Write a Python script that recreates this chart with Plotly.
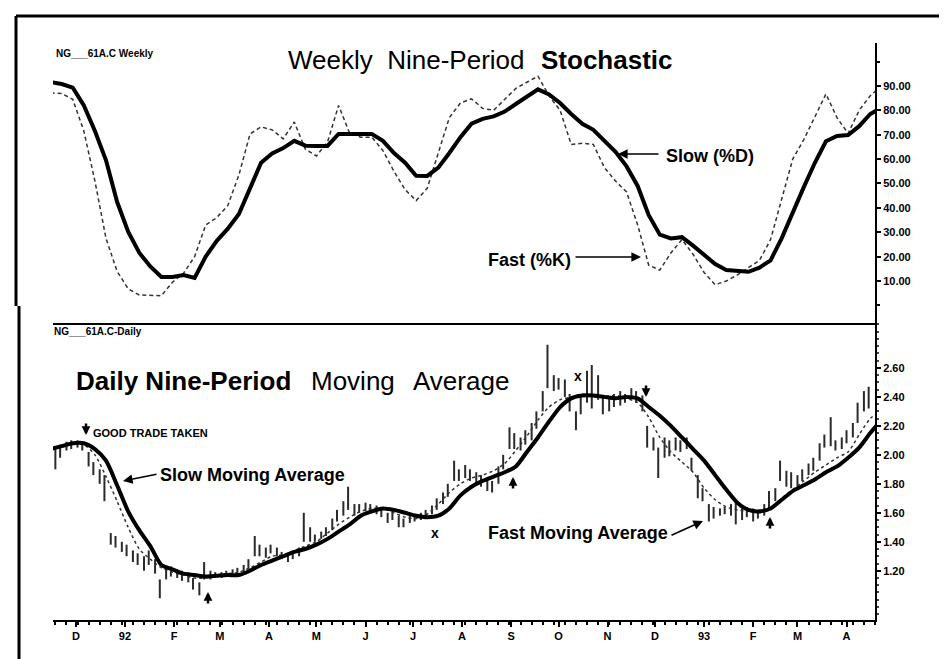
import pandas as pd
import plotly.graph_objects as go

W, H = 947, 659

# weekly stochastic (top panel), one value per Friday
week_dates = pd.date_range('1991-11-15', periods=76, freq='7D')
fast_k = [87.1, 86.9, 84.5, 71.5, 51.0, 27.5, 14.0, 6.8, 4.3, 4.0,
          4.0, 9.5, 13.2, 20.0, 33.0, 36.0, 41.0, 53.5, 70.3, 73.2,
          72.0, 68.3, 75.2, 64.0, 61.3, 67.0, 82.0, 70.5, 69.0, 69.0,
          63.5, 55.0, 47.5, 43.0, 48.0, 62.5, 77.0, 83.0, 84.7, 80.8,
          80.0, 84.5, 89.0, 91.5, 94.0, 85.9, 80.0, 66.0, 66.5, 66.0,
          56.5, 51.0, 46.5, 33.0, 16.5, 14.5, 21.5, 27.0, 21.0, 13.5,
          8.5, 10.0, 12.5, 15.5, 18.5, 27.0, 44.0, 60.0, 68.0, 77.5,
          86.7, 77.0, 70.5, 80.0, 86.0, 90.0]
slow_d = [91.6, 90.8, 89.3, 82.0, 71.5, 59.5, 42.5, 30.2, 21.6, 16.0,
          11.7, 11.7, 12.5, 11.3, 20.0, 26.5, 31.5, 37.5, 48.0, 58.5,
          62.3, 64.5, 67.5, 65.5, 65.4, 65.4, 70.3, 70.3, 70.3, 70.3,
          67.5, 62.5, 58.5, 53.2, 53.1, 56.5, 62.5, 69.0, 74.5, 76.5,
          77.5, 79.5, 82.6, 85.7, 88.6, 86.5, 83.0, 78.5, 74.5, 72.0,
          67.5, 63.0, 57.0, 49.0, 37.0, 29.0, 27.5, 28.0, 24.5, 21.0,
          17.0, 14.5, 14.0, 13.8, 15.5, 18.5, 27.5, 38.5, 48.5, 58.5,
          67.3, 69.5, 69.9, 73.5, 78.5, 81.0]

# daily nine-period moving averages (bottom panel), read weekly
slow_ma = [2.04, 2.06, 2.08, 2.08, 2.04, 1.96, 1.79, 1.61, 1.48, 1.37,
           1.24, 1.21, 1.18, 1.17, 1.16, 1.165, 1.17, 1.17, 1.20, 1.24,
           1.27, 1.30, 1.33, 1.35, 1.38, 1.42, 1.47, 1.52, 1.58, 1.61,
           1.63, 1.62, 1.60, 1.58, 1.57, 1.58, 1.63, 1.72, 1.78, 1.82,
           1.85, 1.88, 1.92, 2.02, 2.12, 2.23, 2.33, 2.39, 2.41, 2.41,
           2.40, 2.39, 2.40, 2.39, 2.33, 2.27, 2.20, 2.12, 2.04, 1.96,
           1.86, 1.76, 1.67, 1.62, 1.61, 1.63, 1.69, 1.75, 1.79, 1.83,
           1.88, 1.92, 1.98, 2.05, 2.15, 2.24]
fast_ma = [2.04, 2.06, 2.08, 2.07, 2.00, 1.85, 1.68, 1.50, 1.35, 1.28,
           1.22, 1.19, 1.17, 1.15, 1.15, 1.17, 1.18, 1.19, 1.22, 1.26,
           1.30, 1.31, 1.34, 1.37, 1.40, 1.46, 1.52, 1.57, 1.61, 1.63,
           1.63, 1.60, 1.57, 1.56, 1.59, 1.66, 1.74, 1.80, 1.84, 1.86,
           1.89, 1.94, 2.03, 2.13, 2.24, 2.33, 2.38, 2.40, 2.42, 2.40,
           2.40, 2.41, 2.39, 2.36, 2.26, 2.12, 2.02, 1.95, 1.88, 1.77,
           1.69, 1.64, 1.62, 1.61, 1.60, 1.63, 1.70, 1.76, 1.82, 1.88,
           1.93, 1.98, 2.02, 2.14, 2.25, 2.31]

# price bars, two per week (Mon / Thu)
mondays = pd.date_range('1991-11-18', periods=74, freq='7D')
bar_dates = []
for d in mondays:
    bar_dates += [d, d + pd.Timedelta(days=3)]
bar_high = [2.06, 2.07, 2.09, 2.10, 2.10, 2.09, 2.02, 1.95, 1.90, 1.86,
            1.46, 1.44, 1.40, 1.38, 1.34, 1.32, 1.30, 1.34, 1.28, 1.14,
            1.22, 1.23, 1.21, 1.20, 1.19, 1.15, 1.12, 1.26, 1.20, 1.19,
            1.19, 1.20, 1.21, 1.22, 1.24, 1.28, 1.44, 1.38, 1.36, 1.38,
            1.36, 1.33, 1.31, 1.33, 1.36, 1.60, 1.50, 1.45, 1.47, 1.50,
            1.56, 1.62, 1.68, 1.78, 1.66, 1.66, 1.67, 1.66, 1.65, 1.64,
            1.60, 1.62, 1.58, 1.56, 1.60, 1.59, 1.60, 1.62, 1.65, 1.70,
            1.74, 1.80, 1.96, 1.90, 1.93, 1.90, 1.88, 1.86, 1.84, 1.82,
            1.92, 2.00, 2.19, 2.15, 2.12, 2.17, 2.22, 2.30, 2.44, 2.76,
            2.55, 2.53, 2.52, 2.42, 2.30, 2.40, 2.58, 2.62, 2.55, 2.40,
            2.39, 2.42, 2.44, 2.42, 2.46, 2.44, 2.41, 2.20, 2.12, 2.05,
            2.12, 2.10, 2.12, 2.10, 2.12, 1.98, 1.86, 1.77, 1.66, 1.64,
            1.63, 1.64, 1.66, 1.68, 1.63, 1.64, 1.63, 1.61, 1.66, 1.75,
            1.77, 1.96, 1.89, 1.88, 1.86, 1.90, 1.94, 1.98, 2.08, 2.14,
            2.26, 2.10, 2.12, 2.17, 2.22, 2.36, 2.44, 2.47]
bar_low = [1.90, 1.98, 2.03, 2.04, 2.05, 2.03, 1.92, 1.86, 1.80, 1.68,
           1.38, 1.36, 1.33, 1.30, 1.26, 1.24, 1.20, 1.24, 1.18, 1.01,
           1.14, 1.16, 1.15, 1.13, 1.12, 1.07, 1.03, 1.14, 1.14, 1.15,
           1.15, 1.16, 1.16, 1.17, 1.19, 1.21, 1.30, 1.30, 1.29, 1.32,
           1.30, 1.28, 1.26, 1.28, 1.30, 1.40, 1.40, 1.40, 1.42, 1.44,
           1.48, 1.54, 1.58, 1.62, 1.58, 1.60, 1.61, 1.60, 1.59, 1.57,
           1.53, 1.55, 1.50, 1.50, 1.53, 1.54, 1.55, 1.57, 1.59, 1.62,
           1.66, 1.71, 1.82, 1.82, 1.84, 1.82, 1.80, 1.78, 1.75, 1.74,
           1.80, 1.90, 2.04, 2.04, 2.03, 2.07, 2.10, 2.18, 2.30, 2.46,
           2.44, 2.45, 2.40, 2.30, 2.17, 2.28, 2.36, 2.32, 2.38, 2.28,
           2.30, 2.33, 2.34, 2.36, 2.39, 2.36, 2.30, 2.05, 2.03, 1.84,
           1.98, 1.99, 2.03, 2.02, 2.04, 1.89, 1.70, 1.68, 1.54, 1.56,
           1.58, 1.59, 1.58, 1.52, 1.55, 1.57, 1.54, 1.56, 1.58, 1.63,
           1.68, 1.82, 1.78, 1.77, 1.78, 1.82, 1.86, 1.89, 1.96, 2.05,
           2.06, 2.03, 2.04, 2.08, 2.12, 2.22, 2.30, 2.32]

month_ticks = ['1991-12-01', '1992-01-01', '1992-02-01', '1992-03-01', '1992-04-01',
               '1992-05-01', '1992-06-01', '1992-07-01', '1992-08-01', '1992-09-01',
               '1992-10-01', '1992-11-01', '1992-12-01', '1993-01-01', '1993-02-01',
               '1993-03-01', '1993-04-01']
month_labels = ['D', '92', 'F', 'M', 'A', 'M', 'J', 'J', 'A', 'S', 'O', 'N', 'D',
                '93', 'F', 'M', 'A']
stoch_ticks = [10, 20, 30, 40, 50, 60, 70, 80, 90]
price_ticks = [1.2, 1.4, 1.6, 1.8, 2.0, 2.2, 2.4, 2.6]

x_range = ['1991-11-16 12:00', '1993-04-19']


def px(x):
    return x / W


def py(y):
    return 1 - y / H


seg_x, seg_y = [], []
for d, hi, lo in zip(bar_dates, bar_high, bar_low):
    seg_x += [d, d, None]
    seg_y += [lo, hi, None]

fig = go.Figure()
fig.add_trace(go.Scatter(x=seg_x, y=seg_y, mode='lines', xaxis='x2', yaxis='y2',
                         line=dict(color='#2a2a2a', width=2), hoverinfo='skip'))
fig.add_trace(go.Scatter(x=week_dates, y=fast_ma, mode='lines', xaxis='x2', yaxis='y2',
                         line=dict(color='#333', width=1.5, dash='3px,3px',
                                   shape='spline', smoothing=0.7)))
fig.add_trace(go.Scatter(x=week_dates, y=slow_ma, mode='lines', xaxis='x2', yaxis='y2',
                         line=dict(color='black', width=4, shape='spline', smoothing=0.7)))
fig.add_trace(go.Scatter(x=week_dates, y=fast_k, mode='lines', xaxis='x', yaxis='y',
                         line=dict(color='#333', width=1.5, dash='4px,3px')))
fig.add_trace(go.Scatter(x=week_dates, y=slow_d, mode='lines', xaxis='x', yaxis='y',
                         line=dict(color='black', width=4)))

bold_tick = dict(family='Liberation Sans', size=11, color='black', weight='bold')
dom_x = [px(45), px(867)]

fig.update_layout(
    width=W, height=H,
    margin=dict(l=0, r=0, t=0, b=0),
    paper_bgcolor='white', plot_bgcolor='white',
    showlegend=False,
    xaxis=dict(domain=dom_x, anchor='y', type='date', range=x_range,
               showticklabels=False, ticks='', showgrid=False, zeroline=False,
               showline=True, linecolor='black', linewidth=2),
    yaxis=dict(domain=[py(315), py(35)], anchor='x', side='right',
               range=[-7.2, 107.6], showgrid=False, zeroline=False,
               showline=True, linecolor='black', linewidth=2,
               tickmode='array', tickvals=stoch_ticks,
               ticktext=['%.2f' % v for v in stoch_ticks],
               ticks='outside', ticklen=4, tickwidth=1.5, tickcolor='black',
               tickfont=bold_tick,
               minor=dict(tickmode='array', tickvals=[0, 100], ticks='outside',
                          ticklen=3, tickcolor='black')),
    xaxis2=dict(domain=dom_x, anchor='y2', type='date', range=x_range,
                showgrid=False, zeroline=False,
                showline=True, linecolor='black', linewidth=2,
                tickmode='array', tickvals=month_ticks, ticktext=month_labels,
                ticks='outside', ticklen=5, tickwidth=1.5, tickcolor='black',
                tickfont=bold_tick,
                minor=dict(tickmode='array',
                           tickvals=list(pd.date_range('1991-11-18', '1993-04-19', freq='7D')),
                           ticks='outside', ticklen=3, tickcolor='black')),
    yaxis2=dict(domain=[py(612), py(315)], anchor='x2', side='right',
                range=[0.86, 2.91], showgrid=False, zeroline=False,
                showline=True, linecolor='black', linewidth=2,
                tickmode='array', tickvals=price_ticks,
                ticktext=['%.2f' % v for v in price_ticks],
                ticks='outside', ticklen=4, tickwidth=1.5, tickcolor='black',
                tickfont=bold_tick,
                minor=dict(tickmode='linear', tick0=0.9, dtick=0.05, ticks='outside',
                           ticklen=2, tickcolor='#444')),
)

# outer frame of the scanned page
for x0, y0, x1, y1 in [(8, 8, 947, 8), (8, 8, 8, 298), (11, 298, 11, 659)]:
    fig.add_shape(type='line', xref='paper', yref='paper',
                  x0=px(x0), y0=py(y0), x1=px(x1), y1=py(y1),
                  line=dict(color='black', width=3))


def label(text, x, y, size, bold=False, anchor='left'):
    fig.add_annotation(text=text, xref='paper', yref='paper', x=px(x), y=py(y),
                       xanchor=anchor, yanchor='middle', showarrow=False,
                       font=dict(family='Liberation Sans', size=size, color='black',
                                 weight='bold' if bold else 'normal'))


def arrow(hx, hy, tx, ty, width=1.6, head=2, size=1.2):
    fig.add_annotation(text='', xref='paper', yref='paper', x=px(hx), y=py(hy),
                       axref='pixel', ayref='pixel', ax=tx - hx, ay=ty - hy,
                       showarrow=True, arrowhead=head, arrowsize=size, arrowwidth=width,
                       arrowcolor='black')


label('NG___61A.C Weekly', 46, 45, 10, bold=True)
label('Weekly\u00a0 Nine-Period', 278, 52, 26)
label('Stochastic', 531, 52, 26, bold=True)
label('Slow (%D)', 656, 148, 18, bold=True)
label('Fast (%K)', 478, 252, 18, bold=True)
arrow(610, 146, 652, 146)
arrow(633, 249, 566, 249)

label('NG___61A.C-Daily', 44, 323, 10, bold=True)
label('Daily Nine-Period', 66, 373, 26, bold=True)
label('Moving', 301, 373, 26)
label('Average', 403, 373, 26)
label('GOOD TRADE TAKEN', 83, 425, 11, bold=True)
label('Slow Moving Average', 150, 467, 18, bold=True)
label('Fast Moving Average', 478, 525, 18, bold=True)
arrow(115, 473, 150, 466)
arrow(695, 513, 662, 528)

# trade signal arrows and failed-signal crosses
for hx, hy, ty in [(78, 427, 414), (638, 389, 376),
                   (200, 584, 597), (505, 469, 482), (762, 509, 522)]:
    arrow(hx, hy, hx, ty, width=2.5, head=2, size=0.7)
for x, y in [(427, 525), (570, 368)]:
    label('x', x, y, 14, bold=True, anchor='center')

fig.write_html('out.html')
